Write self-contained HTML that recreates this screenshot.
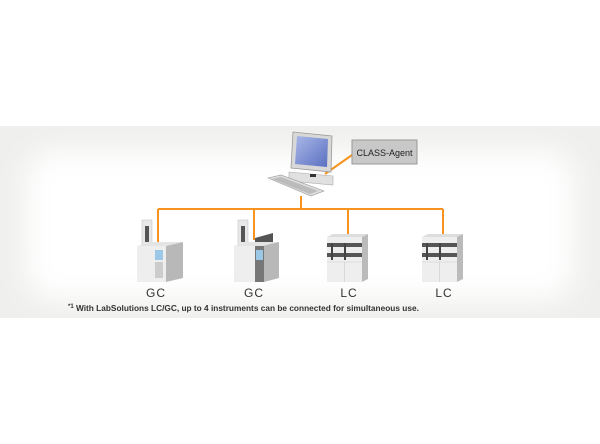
<!DOCTYPE html>
<html><head><meta charset="utf-8"><style>
html,body{margin:0;padding:0;background:#fff;}
body{width:600px;height:444px;position:relative;overflow:hidden;font-family:"Liberation Sans",sans-serif;}
</style></head><body>
<svg width="600" height="444" xmlns="http://www.w3.org/2000/svg" style="position:absolute;left:0;top:0">
<defs>
<filter id="bl" x="-20%" y="-20%" width="140%" height="140%"><feGaussianBlur stdDeviation="14"/></filter>
<clipPath id="band"><rect x="0" y="126" width="600" height="192"/></clipPath>
<linearGradient id="scr" x1="0" y1="0" x2="1" y2="1"><stop offset="0" stop-color="#a9b8e8"/><stop offset="1" stop-color="#5a6fc0"/></linearGradient>
</defs>
<g clip-path="url(#band)">
<rect x="0" y="126" width="600" height="192" fill="#efefed"/>
<rect x="25" y="150" width="550" height="150" rx="30" fill="#ffffff" filter="url(#bl)"/>
</g>
<!-- lines -->
<g stroke="#f7931e" stroke-width="2" fill="none">
<line x1="325" y1="174" x2="352" y2="155"/>
<line x1="301" y1="196" x2="301" y2="209"/>
<line x1="158" y1="209" x2="443" y2="209"/>
<line x1="158" y1="209" x2="158" y2="244"/>
<line x1="254" y1="209" x2="254" y2="240"/>
<line x1="348" y1="209" x2="348" y2="237"/>
<line x1="443" y1="209" x2="443" y2="237"/>
</g>
<!-- computer -->
<polygon points="293,132 332,136 331,172 291,168" fill="#d8d8d8" stroke="#999" stroke-width="0.8"/>
<polygon points="297,136 328,139 327,167 295,164" fill="url(#scr)"/>
<polygon points="289,172 333,176 333,185 289,181" fill="#e0e0e0" stroke="#aaa" stroke-width="0.6"/>
<rect x="310" y="174" width="6" height="3" fill="#333"/>
<polygon points="268,178 281,175 324,191 311,196" fill="#dcdcdc" stroke="#999" stroke-width="0.6"/>
<polygon points="272,179 281,177 318,191 310,194" fill="#bbb"/>
<!-- CLASS-Agent box -->
<rect x="352" y="140" width="65" height="24" fill="#c8c8c8" stroke="#999" stroke-width="1"/>
<text x="384.5" y="156" font-size="9" text-anchor="middle" fill="#222">CLASS-Agent</text>
<!-- GC1 -->
<rect x="142" y="220" width="10" height="26" fill="#e8e8e8" stroke="#bbb" stroke-width="0.5"/>
<rect x="145" y="226" width="4" height="16" fill="#555"/>
<polygon points="137,246 166,246 183,242 154,242" fill="#e4e4e4"/>
<rect x="137" y="246" width="29" height="36" fill="#eeeeee"/>
<polygon points="166,246 183,242 183,278 166,282" fill="#b8b8b8"/>
<rect x="155" y="250" width="8" height="10" fill="#9cc8e8"/>
<rect x="155" y="262" width="8" height="16" fill="#ccc"/>
<!-- GC2 -->
<rect x="238" y="220" width="10" height="26" fill="#e8e8e8" stroke="#bbb" stroke-width="0.5"/>
<rect x="241" y="226" width="4" height="16" fill="#555"/>
<polygon points="255,238 273,233 273,246 255,246" fill="#555"/>
<polygon points="234,246 264,246 279,242 250,242" fill="#e4e4e4"/>
<rect x="234" y="246" width="30" height="36" fill="#eeeeee"/>
<rect x="255" y="246" width="9" height="36" fill="#777"/>
<rect x="256" y="250" width="7" height="10" fill="#9cc8e8"/>
<polygon points="264,246 279,242 279,278 264,282" fill="#b8b8b8"/>
<!-- LC -->
<g id="lc">
<polygon points="327,237 362,237 368,234 333,234" fill="#ddd"/>
<rect x="327" y="237" width="35" height="45" fill="#eeeeee"/>
<polygon points="362,237 368,234 368,279 362,282" fill="#bbb"/>
<rect x="327" y="243" width="35" height="4" fill="#555"/>
<rect x="327" y="253" width="35" height="4" fill="#555"/>
<rect x="331" y="243" width="2" height="17" fill="#444"/>
<rect x="344" y="243" width="2" height="17" fill="#444"/>
<line x1="344.5" y1="262" x2="344.5" y2="282" stroke="#ccc" stroke-width="0.6"/>
<line x1="327" y1="262" x2="362" y2="262" stroke="#ccc" stroke-width="0.6"/>
</g>
<use href="#lc" x="95" y="0"/>
<!-- labels -->
<g font-size="12" fill="#333" text-anchor="middle" letter-spacing="1">
<text x="156" y="297">GC</text>
<text x="254" y="297">GC</text>
<text x="349" y="297">LC</text>
<text x="444" y="297">LC</text>
</g>
<text x="68" y="311" font-size="8.3" font-weight="bold" fill="#333"><tspan font-size="6" dy="-3">*1</tspan><tspan dy="3"> With LabSolutions LC/GC, up to 4 instruments can be connected for simultaneous use.</tspan></text>
</svg>
</body></html>
